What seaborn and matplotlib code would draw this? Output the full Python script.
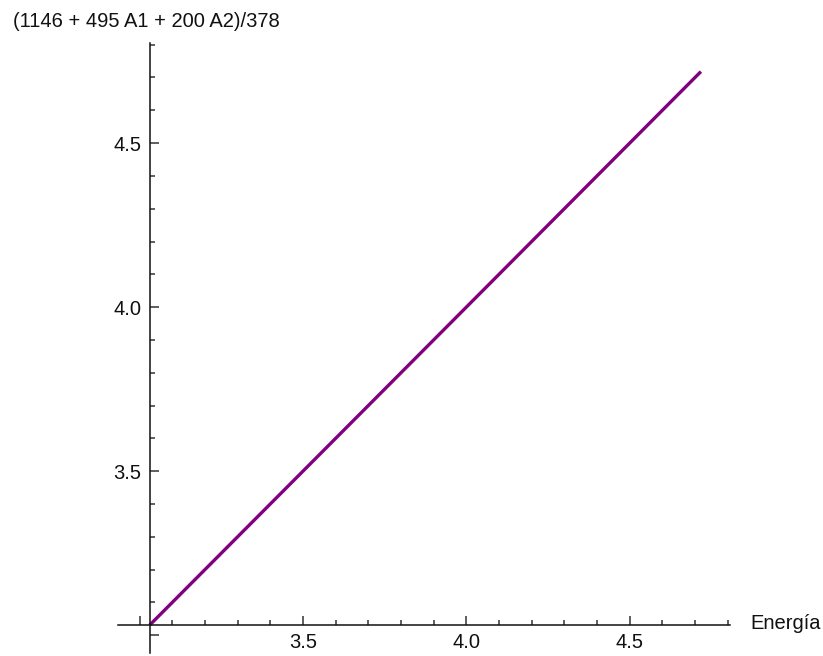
import matplotlib
matplotlib.use("Agg")
import matplotlib.pyplot as plt
from matplotlib.ticker import FixedLocator, MultipleLocator, FixedFormatter
import numpy as np
import pandas as pd
import seaborn as sns

# Endpoints of the straight-line plot (Energía vs. expression)
energia = [3.0317, 4.718]
valor = [3.0317, 4.718]

x_major = [3.0, 3.5, 4.0, 4.5]
x_labels = ["", "3.5", "4.0", "4.5"]
y_major = [3.0, 3.5, 4.0, 4.5]
y_labels = ["", "3.5", "4.0", "4.5"]

titulo = "(1146 + 495 A1 + 200 A2)/378"
etiqueta_x = "Energía"

sns.set_theme(style="white")
plt.rcParams["font.family"] = ["Liberation Sans", "DejaVu Sans"]

fs = 14.5

fig = plt.figure(figsize=(8.23, 6.56), dpi=100)
ax = fig.add_axes([118.3 / 823, 3 / 656, (730 - 118.3) / 823, (653 - 42.7) / 656])

df = pd.DataFrame({"Energía": energia, "valor": valor})
sns.lineplot(data=df, x="Energía", y="valor", ax=ax, color="#800080",
             linewidth=2.4, solid_capstyle="butt")

ax.set_xlim(2.935, 4.807)
ax.set_ylim(2.946, 4.806)

# Axes cross at the lower end of the plotted range
for side in ("top", "right"):
    ax.spines[side].set_visible(False)
ax.spines["left"].set_position(("data", energia[0]))
ax.spines["bottom"].set_position(("data", valor[0]))
for side in ("left", "bottom"):
    ax.spines[side].set_color("#111111")
    ax.spines[side].set_linewidth(1.1)

ax.xaxis.set_major_locator(FixedLocator(x_major))
ax.xaxis.set_major_formatter(FixedFormatter(x_labels))
ax.yaxis.set_major_locator(FixedLocator(y_major))
ax.yaxis.set_major_formatter(FixedFormatter(y_labels))
ax.xaxis.set_minor_locator(MultipleLocator(0.1))
ax.yaxis.set_minor_locator(MultipleLocator(0.1))

ax.tick_params(axis="x", which="both", direction="in", bottom=True, top=False,
               color="#333333", width=1.1, labelsize=fs, pad=6, labelcolor="#111111")
ax.tick_params(axis="y", which="both", direction="in", left=True, right=False,
               color="#333333", width=1.1, labelsize=fs, pad=6, labelcolor="#111111")
ax.tick_params(which="major", length=6.5)
ax.tick_params(which="minor", length=3.5)

ax.set_xlabel("")
ax.set_ylabel("")

fig.text(750 / 823, 1 - 629 / 656, etiqueta_x, fontsize=fs, color="#111111",
         ha="left", va="baseline")
fig.text(13 / 823, 1 - 27.3 / 656, titulo, fontsize=fs, color="#111111",
         ha="left", va="baseline")

fig.savefig("out.png", dpi=100)
